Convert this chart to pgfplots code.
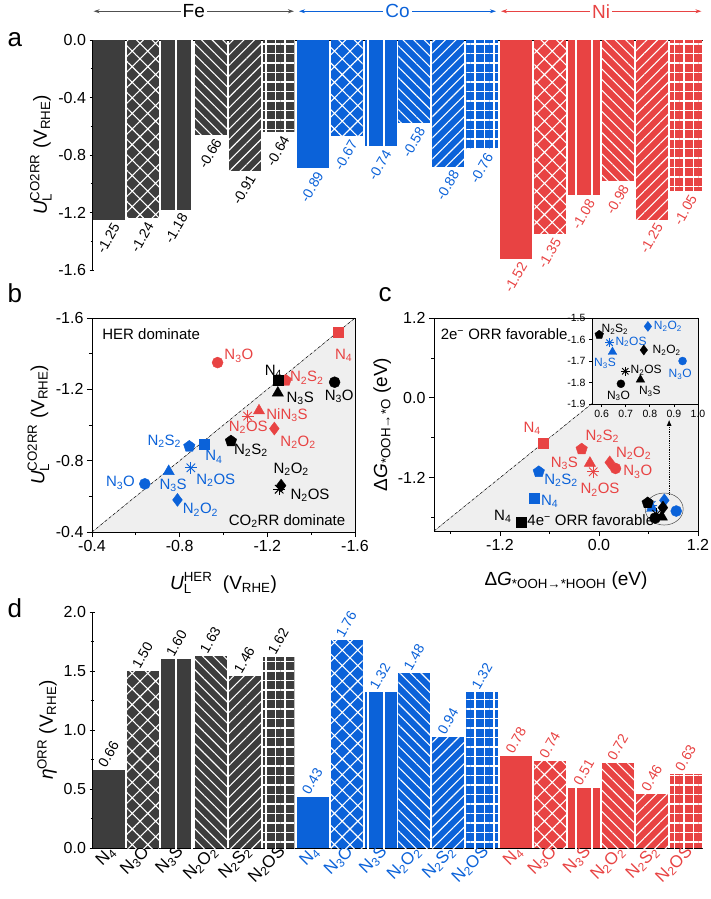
\documentclass[border=0pt]{standalone}
\usepackage{fontspec}
\setmainfont{Liberation Sans}
\usepackage{amsmath}
\usepackage{pgfplots}
\pgfplotsset{compat=1.18}
\usetikzlibrary{patterns.meta, arrows.meta, plotmarks}
\definecolor{cFe}{HTML}{3D3D3D}
\definecolor{cFeH}{HTML}{505050}
\definecolor{cCo}{HTML}{0B62D9}
\definecolor{cNi}{HTML}{E84343}
\definecolor{cBg}{HTML}{EFEFEF}
\newcommand{\fsTick}{\fontsize{16}{16}\selectfont}
\newcommand{\fsLab}{\fontsize{19}{19}\selectfont}
\newcommand{\fsBar}{\fontsize{14}{14}\selectfont}
\newcommand{\fsAnn}{\fontsize{15}{15}\selectfont}
\newcommand{\fsIn}{\fontsize{12}{12}\selectfont}
\newcommand{\fsInT}{\fontsize{10.5}{10.5}\selectfont}
\newcommand{\fsLet}{\fontsize{26}{26}\selectfont}
\tikzset{
 p1/.style={},
 p2/.style={postaction={pattern={Hatch[angle=45,distance=11pt,line width=1.1pt]},pattern color=white}},
 p3/.style={postaction={pattern={Lines[angle=90,distance=16pt,line width=1.1pt]},pattern color=white}},
 p4/.style={postaction={pattern={Lines[angle=-45,distance=7.5pt,line width=1.1pt]},pattern color=white}},
 p5/.style={postaction={pattern={Lines[angle=45,distance=7.5pt,line width=1.1pt]},pattern color=white}},
 p6/.style={postaction={pattern={Hatch[angle=0,distance=9.5pt,line width=1.1pt]},pattern color=white}},
}
\pgfplotsset{
 every axis/.append style={scale only axis, /pgf/number format/assume math mode=true,
  tick label style={font=\fsTick}, label style={font=\fsLab}, tick align=outside,
  major tick length=5pt, minor tick length=3pt, axis line style={line width=0.8pt},
  every tick/.style={black, line width=0.8pt}},
}
\newcommand{\bbar}[6]{\addplot[ybar, bar width=32pt, bar shift=0pt, fill=#3, draw=none, #4, point meta=explicit symbolic, nodes near coords, every node near coord/.append style={text=#5}] coordinates {(#1,#2) [#6]};}
\newcommand{\mk}[4]{\addplot[only marks, mark=#1, mark size=#3, color=#2, mark options={solid, fill=#2}] coordinates {#4};}
\newcommand{\mkstar}[3]{\addplot[only marks, mark=+, mark size=#2, color=#1, line width=0.9pt] coordinates {#3};
 \addplot[only marks, mark=x, mark size=#2, color=#1, line width=0.9pt] coordinates {#3};}
\newcommand{\ann}[4]{\node[text=#1, font=\fsAnn, inner sep=1pt] at (axis cs:#2,#3) {#4};}
\newcommand{\annin}[4]{\node[text=#1, font=\fsIn, inner sep=0.5pt] at (axis cs:#2,#3) {#4};}
\newcommand{\sub}[1]{\textsubscript{#1}}
\begin{document}
\begin{tikzpicture}[x=1pt,y=1pt]
\useasboundingbox (0,0) rectangle (711,-899);
% ---------------- panel a
\begin{axis}[at={(92pt,-40pt)}, anchor=north west, width=611pt, height=230pt,
 xmin=0.5, xmax=18.5, ymin=-1.6, ymax=0,
 axis x line=top, axis y line=left, axis line style={-}, xtick=\empty,
 ytick={-1.6,-1.2,-0.8,-0.4,0}, minor y tick num=1,
 yticklabel style={/pgf/number format/.cd, fixed, fixed zerofill, precision=1},
 ylabel={$\textit{U}_{\text{L}}^{\text{CO2RR}}$ (V\sub{RHE})},
 clip=false,
 every node near coord/.append style={font=\fsBar, xshift=9pt, yshift=-2pt, rotate=60, anchor=east}]
\bbar{1}{-1.25}{cFe}{p1}{black}{-1.25}
\bbar{2}{-1.24}{cFe}{p2}{black}{-1.24}
\bbar{3}{-1.18}{cFe}{p3}{black}{-1.18}
\bbar{4}{-0.66}{cFe}{p4}{black}{-0.66}
\bbar{5}{-0.91}{cFe}{p5}{black}{-0.91}
\bbar{6}{-0.64}{cFe}{p6}{black}{-0.64}
\bbar{7}{-0.89}{cCo}{p1}{cCo}{-0.89}
\bbar{8}{-0.67}{cCo}{p2}{cCo}{-0.67}
\bbar{9}{-0.74}{cCo}{p3}{cCo}{-0.74}
\bbar{10}{-0.58}{cCo}{p4}{cCo}{-0.58}
\bbar{11}{-0.88}{cCo}{p5}{cCo}{-0.88}
\bbar{12}{-0.76}{cCo}{p6}{cCo}{-0.76}
\bbar{13}{-1.52}{cNi}{p1}{cNi}{-1.52}
\bbar{14}{-1.35}{cNi}{p2}{cNi}{-1.35}
\bbar{15}{-1.08}{cNi}{p3}{cNi}{-1.08}
\bbar{16}{-0.98}{cNi}{p4}{cNi}{-0.98}
\bbar{17}{-1.25}{cNi}{p5}{cNi}{-1.25}
\bbar{18}{-1.05}{cNi}{p6}{cNi}{-1.05}
\draw[{Stealth[length=6pt,width=4pt]}-{Stealth[length=6pt,width=4pt]}, cFeH, line width=0.7pt] (axis cs:0.55,0.2) -- node[fill=white, inner sep=2pt, text=black, font=\fsLab]{Fe} (axis cs:6.45,0.2);
\draw[{Stealth[length=6pt,width=4pt]}-{Stealth[length=6pt,width=4pt]}, cCo, line width=0.7pt] (axis cs:6.6,0.2) -- node[fill=white, inner sep=2pt, text=cCo, font=\fsLab]{Co} (axis cs:12.4,0.2);
\draw[{Stealth[length=6pt,width=4pt]}-{Stealth[length=6pt,width=4pt]}, cNi, line width=0.7pt] (axis cs:12.55,0.2) -- node[fill=white, inner sep=2pt, text=cNi, font=\fsLab]{Ni} (axis cs:18.45,0.2);
\end{axis}
% ---------------- panel b
\begin{axis}[at={(92pt,-318pt)}, anchor=north west, width=263pt, height=214pt,
 xmin=-1.6, xmax=-0.4, ymin=-1.6, ymax=-0.4, x dir=reverse, y dir=reverse,
 xtick={-1.6,-1.2,-0.8,-0.4}, ytick={-1.6,-1.2,-0.8,-0.4}, minor tick num=1, tick pos=left,
 xticklabel style={/pgf/number format/.cd, fixed, fixed zerofill, precision=1},
 yticklabel style={/pgf/number format/.cd, fixed, fixed zerofill, precision=1},
 xlabel={$\textit{U}_{\text{L}}^{\text{HER}}$\ \ (V\sub{RHE})},
 xlabel style={yshift=-14pt},
 ylabel={$\textit{U}_{\text{L}}^{\text{CO2RR}}$ (V\sub{RHE})},
 axis on top, clip=false]
\addplot[fill=cBg, draw=none] coordinates {(-0.4,-0.4) (-1.6,-1.6) (-1.6,-0.4)} -- cycle;
\addplot[densely dashdotted, line width=0.5pt] coordinates {(-0.4,-0.4) (-1.6,-1.6)};
\ann{black}{-0.67}{-1.507}{HER dominate}
\ann{black}{-1.29}{-0.461}{CO\sub{2}RR dominate}
% Ni
\mk{square*}{cNi}{5pt}{(-1.525,-1.52)}
\mk{*}{cNi}{5.5pt}{(-0.973,-1.35)}
\mk{pentagon*}{cNi}{6pt}{(-1.284,-1.25)}
\mk{triangle*}{cNi}{6.5pt}{(-1.162,-1.08)}
\mkstar{cNi}{6pt}{(-1.11,-1.05)}
\mk{diamond*}{cNi}{6.5pt}{(-1.232,-0.98)}
% Fe
\mk{square*}{black}{5pt}{(-1.248,-1.25)}
\mk{triangle*}{black}{6.5pt}{(-1.248,-1.18)}
\mk{*}{black}{5.5pt}{(-1.507,-1.24)}
\mk{pentagon*}{black}{6pt}{(-1.034,-0.91)}
\mk{diamond*}{black}{6.5pt}{(-1.263,-0.66)}
\mkstar{black}{6pt}{(-1.254,-0.64)}
% Co
\mk{square*}{cCo}{5pt}{(-0.912,-0.89)}
\mk{pentagon*}{cCo}{6pt}{(-0.844,-0.88)}
\mkstar{cCo}{6pt}{(-0.851,-0.76)}
\mk{triangle*}{cCo}{6.5pt}{(-0.75,-0.74)}
\mk{*}{cCo}{5.5pt}{(-0.641,-0.67)}
\mk{diamond*}{cCo}{6.5pt}{(-0.79,-0.58)}
% labels
\ann{cNi}{-1.548}{-1.391}{N\sub{4}}
\ann{cNi}{-1.07}{-1.387}{N\sub{3}O}
\ann{cNi}{-1.38}{-1.264}{N\sub{2}S\sub{2}}
\ann{cNi}{-1.29}{-1.055}{NiN\sub{3}S}
\ann{cNi}{-1.113}{-0.989}{N\sub{2}OS}
\ann{cNi}{-1.34}{-0.904}{N\sub{2}O\sub{2}}
\ann{black}{-1.228}{-1.302}{N\sub{4}}
\ann{black}{-1.35}{-1.15}{N\sub{3}S}
\ann{black}{-1.528}{-1.16}{N\sub{3}O}
\ann{black}{-1.125}{-0.86}{N\sub{2}S\sub{2}}
\ann{black}{-1.309}{-0.752}{N\sub{2}O\sub{2}}
\ann{black}{-1.395}{-0.606}{N\sub{2}OS}
\ann{cCo}{-0.73}{-0.909}{N\sub{2}S\sub{2}}
\ann{cCo}{-0.956}{-0.822}{N\sub{4}}
\ann{cCo}{-0.965}{-0.689}{N\sub{2}OS}
\ann{cCo}{-0.77}{-0.663}{N\sub{3}S}
\ann{cCo}{-0.53}{-0.676}{N\sub{3}O}
\ann{cCo}{-0.895}{-0.524}{N\sub{2}O\sub{2}}
\end{axis}
% ---------------- panel c
\begin{axis}[at={(434pt,-318pt)}, anchor=north west, width=264pt, height=213pt,
 xmin=-2, xmax=1.2, ymin=-2, ymax=1.2,
 xtick={-1.2,0,1.2}, ytick={-1.2,0,1.2}, minor xtick={-1.8,-0.6,0.6}, minor ytick={-1.8,-0.6,0.6}, tick pos=left,
 xticklabel style={/pgf/number format/.cd, fixed, fixed zerofill, precision=1},
 yticklabel style={/pgf/number format/.cd, fixed, fixed zerofill, precision=1},
 xlabel={Δ\textit{G}\sub{*OOH→*HOOH} (eV)},
 xlabel style={yshift=-14pt},
 ylabel={Δ\textit{G}\sub{*OOH→*O} (eV)},
 axis on top, clip=false]
\addplot[fill=cBg, draw=none] coordinates {(-2,-2) (1.2,1.2) (1.2,-2)} -- cycle;
\addplot[densely dashdotted, line width=0.5pt] coordinates {(-2,-2) (1.2,1.2)};
\node[font=\fsAnn, anchor=west, inner sep=0pt] at (axis cs:-1.92,0.96) {2e\textsuperscript{−} ORR favorable};
\node[font=\fsAnn, anchor=west, inner sep=0pt] at (axis cs:-0.87,-1.84) {4e\textsuperscript{−} ORR favorable};
\draw[line width=0.5pt, black!70] (axis cs:0.79,-1.67) ellipse [x radius=19pt, y radius=16pt];
\draw[densely dotted, line width=0.8pt, -{Latex[length=6pt,width=5pt]}] (axis cs:0.85,-1.45) -- (axis cs:0.85,-0.33);
% Ni
\mk{square*}{cNi}{5pt}{(-0.68,-0.68)}
\mk{pentagon*}{cNi}{6pt}{(-0.21,-0.77)}
\mk{triangle*}{cNi}{6.5pt}{(-0.11,-0.98)}
\mkstar{cNi}{6pt}{(-0.07,-1.11)}
\mk{diamond*}{cNi}{6.5pt}{(0.13,-0.97)}
\mk{*}{cNi}{5.5pt}{(0.2,-1.06)}
% Co
\mk{pentagon*}{cCo}{6pt}{(-0.73,-1.11)}
\mk{square*}{cCo}{5pt}{(-0.79,-1.5)}
\mk{diamond*}{cCo}{6.5pt}{(0.792,-1.539)}
\mkstar{cCo}{6pt}{(0.633,-1.615)}
\mk{triangle*}{cCo}{6.5pt}{(0.645,-1.658)}
\mk{*}{cCo}{5.5pt}{(0.936,-1.70)}
% Fe
\mk{square*}{black}{5pt}{(-0.94,-1.87)}
\mk{pentagon*}{black}{6pt}{(0.59,-1.578)}
\mk{diamond*}{black}{6.5pt}{(0.775,-1.649)}
\mkstar{black}{6pt}{(0.698,-1.748)}
\mk{*}{black}{5.5pt}{(0.68,-1.806)}
\mk{triangle*}{black}{6.5pt}{(0.761,-1.787)}
\ann{cNi}{-0.81}{-0.455}{N\sub{4}}
\ann{cNi}{0.04}{-0.58}{N\sub{2}S\sub{2}}
\ann{cNi}{-0.42}{-0.985}{N\sub{3}S}
\ann{cNi}{0.013}{-1.38}{N\sub{2}OS}
\ann{cNi}{0.42}{-0.833}{N\sub{2}O\sub{2}}
\ann{cNi}{0.47}{-1.11}{N\sub{3}O}
\ann{cCo}{-0.46}{-1.237}{N\sub{2}S\sub{2}}
\ann{cCo}{-0.598}{-1.55}{N\sub{4}}
\ann{black}{-1.166}{-1.78}{N\sub{4}}
\end{axis}
% ---------------- inset
\begin{axis}[at={(592pt,-318pt)}, anchor=north west, width=106pt, height=86pt,
 xmin=0.56, xmax=1.0, ymin=-1.9, ymax=-1.5,
 xtick={0.6,0.7,0.8,0.9,1.0}, ytick={-1.9,-1.8,-1.7,-1.6,-1.5}, tick pos=left,
 tick label style={font=\fsInT}, major tick length=3pt,
 xticklabel style={/pgf/number format/.cd, fixed, fixed zerofill, precision=1},
 yticklabel style={/pgf/number format/.cd, fixed, fixed zerofill, precision=1},
 axis background/.style={fill=cBg}, clip=false]
\mk{pentagon*}{black}{4.5pt}{(0.59,-1.578)}
\mk{diamond*}{cCo}{5pt}{(0.792,-1.539)}
\mkstar{cCo}{4.5pt}{(0.633,-1.615)}
\mk{triangle*}{cCo}{5pt}{(0.645,-1.658)}
\mk{diamond*}{black}{5pt}{(0.775,-1.649)}
\mk{*}{cCo}{4pt}{(0.936,-1.70)}
\mkstar{black}{4.5pt}{(0.698,-1.748)}
\mk{*}{black}{4pt}{(0.68,-1.806)}
\mk{triangle*}{black}{5pt}{(0.761,-1.787)}
\annin{black}{0.655}{-1.552}{N\sub{2}S\sub{2}}
\annin{black}{0.87}{-1.649}{N\sub{2}O\sub{2}}
\annin{black}{0.785}{-1.745}{N\sub{2}OS}
\annin{black}{0.67}{-1.862}{N\sub{3}O}
\annin{black}{0.80}{-1.84}{N\sub{3}S}
\annin{cCo}{0.875}{-1.539}{N\sub{2}O\sub{2}}
\annin{cCo}{0.722}{-1.611}{N\sub{2}OS}
\annin{cCo}{0.614}{-1.712}{N\sub{3}S}
\annin{cCo}{0.926}{-1.762}{N\sub{3}O}
\end{axis}
% ---------------- panel d
\begin{axis}[at={(92pt,-848pt)}, anchor=south west, width=611pt, height=236pt,
 xmin=0.5, xmax=18.5, ymin=0, ymax=2,
 axis x line=bottom, axis y line=left, axis line style={-},
 ytick={0,0.5,1,1.5,2}, minor y tick num=1,
 yticklabel style={/pgf/number format/.cd, fixed, fixed zerofill, precision=1},
 xtick={1,...,18}, xtick style={draw=none},
 xticklabels={N\sub{4},N\sub{3}O,N\sub{3}S,N\sub{2}O\sub{2},N\sub{2}S\sub{2},N\sub{2}OS,
  {\color{cCo}N\sub{4}},{\color{cCo}N\sub{3}O},{\color{cCo}N\sub{3}S},{\color{cCo}N\sub{2}O\sub{2}},{\color{cCo}N\sub{2}S\sub{2}},{\color{cCo}N\sub{2}OS},
  {\color{cNi}N\sub{4}},{\color{cNi}N\sub{3}O},{\color{cNi}N\sub{3}S},{\color{cNi}N\sub{2}O\sub{2}},{\color{cNi}N\sub{2}S\sub{2}},{\color{cNi}N\sub{2}OS}},
 xticklabel style={rotate=45, anchor=east, font=\fontsize{17}{17}\selectfont, xshift=7pt, yshift=-2pt},
 ylabel={\textit{η}\textsuperscript{ORR} (V\sub{RHE})},
 clip=false,
 every node near coord/.append style={font=\fsBar, xshift=-9pt, yshift=1pt, rotate=60, anchor=west}]
\bbar{1}{0.66}{cFe}{p1}{black}{0.66}
\bbar{2}{1.50}{cFe}{p2}{black}{1.50}
\bbar{3}{1.60}{cFe}{p3}{black}{1.60}
\bbar{4}{1.63}{cFe}{p4}{black}{1.63}
\bbar{5}{1.46}{cFe}{p5}{black}{1.46}
\bbar{6}{1.62}{cFe}{p6}{black}{1.62}
\bbar{7}{0.43}{cCo}{p1}{cCo}{0.43}
\bbar{8}{1.76}{cCo}{p2}{cCo}{1.76}
\bbar{9}{1.32}{cCo}{p3}{cCo}{1.32}
\bbar{10}{1.48}{cCo}{p4}{cCo}{1.48}
\bbar{11}{0.94}{cCo}{p5}{cCo}{0.94}
\bbar{12}{1.32}{cCo}{p6}{cCo}{1.32}
\bbar{13}{0.78}{cNi}{p1}{cNi}{0.78}
\bbar{14}{0.74}{cNi}{p2}{cNi}{0.74}
\bbar{15}{0.51}{cNi}{p3}{cNi}{0.51}
\bbar{16}{0.72}{cNi}{p4}{cNi}{0.72}
\bbar{17}{0.46}{cNi}{p5}{cNi}{0.46}
\bbar{18}{0.63}{cNi}{p6}{cNi}{0.63}
\end{axis}
% panel letters
\node[font=\fsLet, anchor=west] at (4,-40) {a};
\node[font=\fsLet, anchor=west] at (4,-293) {b};
\node[font=\fsLet, anchor=west] at (375,-295) {c};
\node[font=\fsLet, anchor=west] at (4,-608) {d};
\end{tikzpicture}
\end{document}
